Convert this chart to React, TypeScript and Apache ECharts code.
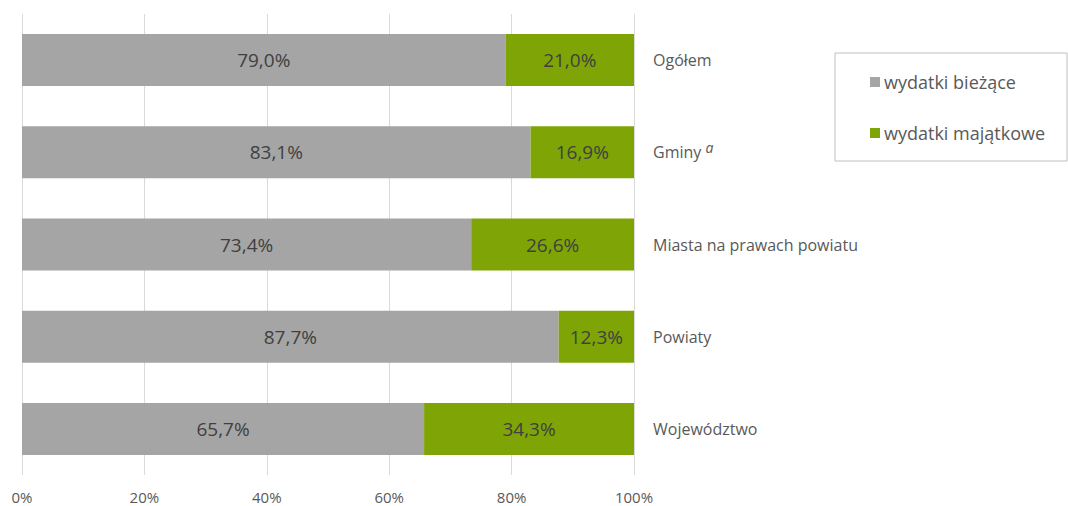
import React, { useEffect, useRef } from "react";
import * as echarts from "echarts";

const categories = ["Ogółem", "Gminy {sup|a}", "Miasta na prawach powiatu", "Powiaty", "Województwo"];
const biezace = [79.0, 83.1, 73.4, 87.7, 65.7];
const majatkowe = [21.0, 16.9, 26.6, 12.3, 34.3];
const seriesNames = ["wydatki bieżące", "wydatki majątkowe"];

const FONT = "'Open Sans', sans-serif";

export default function App() {
  const ref = useRef<HTMLDivElement>(null);
  useEffect(() => {
    const chart = echarts.init(ref.current!, null, { renderer: "svg" });
    const fmt = (p: any) => p.value.toFixed(1).replace(".", ",") + "%";
    chart.setOption({
      animation: false,
      textStyle: { fontFamily: FONT },
      grid: { left: 22, top: 14, width: 612, height: 461, containLabel: false },
      legend: {
        orient: "vertical",
        left: 835,
        top: 53,
        padding: [20, 22, 19, 35],
        itemGap: 33,
        itemWidth: 10,
        itemHeight: 10,
        borderColor: "#bfbfbf",
        borderWidth: 1,
        icon: "rect",
        textStyle: { fontSize: 18, color: "#595959", fontFamily: FONT, padding: [0, 0, 0, -1] },
        data: seriesNames,
      },
      xAxis: {
        type: "value",
        min: 0,
        max: 100,
        interval: 20,
        axisLabel: {
          formatter: "{value}%",
          fontSize: 15,
          color: "#595959",
          margin: 14,
          fontFamily: FONT,
        },
        axisLine: { show: false },
        axisTick: { show: false },
        splitLine: { show: true, lineStyle: { color: "#d9d9d9", width: 1 } },
      },
      yAxis: {
        type: "category",
        data: categories,
        inverse: true,
        position: "right",
        axisLine: { show: false },
        axisTick: { show: false },
        axisLabel: {
          fontSize: 16,
          color: "#595959",
          margin: 19,
          align: "left",
          fontFamily: FONT,
          rich: {
            sup: { fontSize: 14, fontStyle: "italic", color: "#595959", verticalAlign: "top", padding: [0, 0, 10, 0], fontFamily: FONT },
          },
        },
      },
      series: [
        {
          name: seriesNames[0],
          type: "bar",
          stack: "total",
          barWidth: 52,
          data: biezace,
          itemStyle: { color: "#a5a5a5" },
          label: { show: true, position: "inside", formatter: fmt, fontSize: 19, color: "#404040", fontFamily: FONT },
        },
        {
          name: seriesNames[1],
          type: "bar",
          stack: "total",
          barWidth: 52,
          data: majatkowe,
          itemStyle: { color: "#7ea505" },
          label: { show: true, position: "inside", formatter: fmt, fontSize: 19, color: "#404040", fontFamily: FONT },
        },
      ],
    });
    return () => chart.dispose();
  }, []);
  return <div ref={ref} style={{ width: 1068, height: 506, position: "absolute", left: 0, top: 0 }} />;
}
